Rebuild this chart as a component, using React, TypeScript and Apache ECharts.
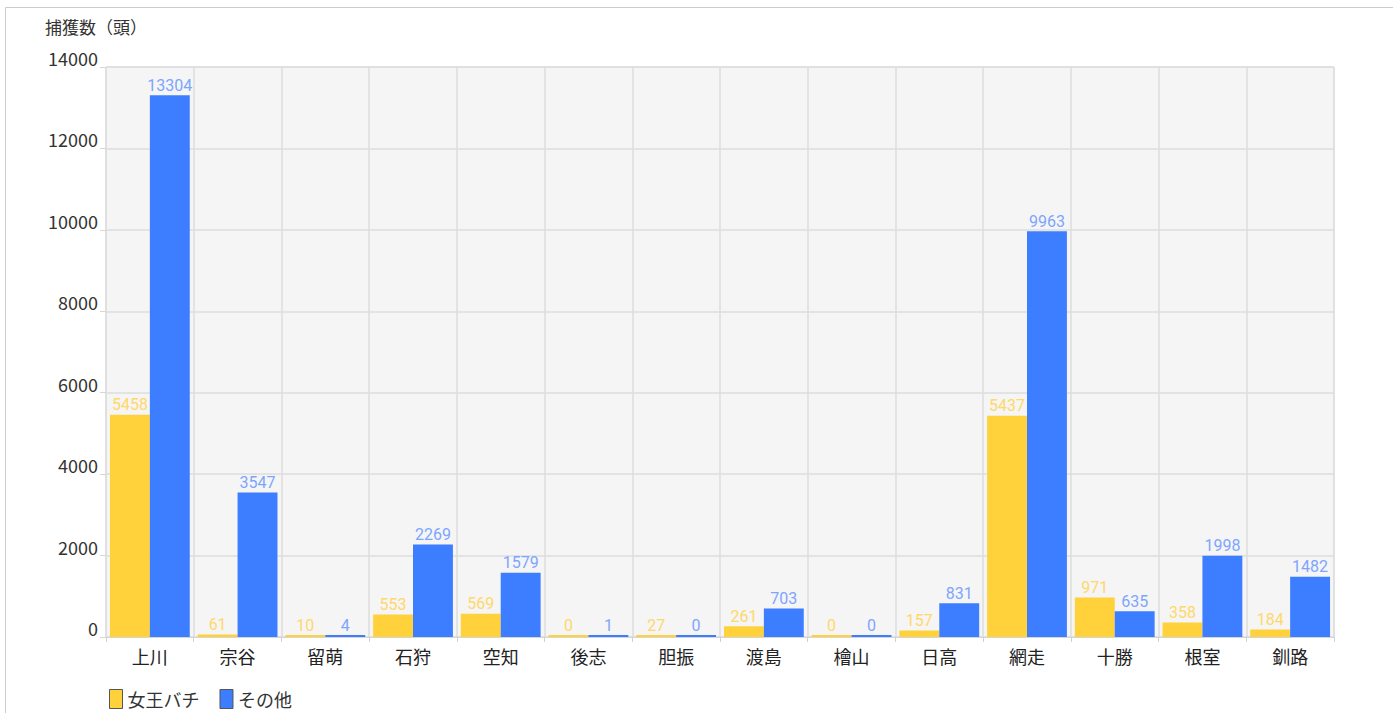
import React, { useEffect, useRef } from "react";
import * as echarts from "echarts";

const categories = ["上川", "宗谷", "留萌", "石狩", "空知", "後志", "胆振", "渡島", "檜山", "日高", "網走", "十勝", "根室", "釧路"];
const queenValues = [5458, 61, 10, 553, 569, 0, 27, 261, 0, 157, 5437, 971, 358, 184];
const otherValues = [13304, 3547, 4, 2269, 1579, 1, 0, 703, 0, 831, 9963, 635, 1998, 1482];
const seriesNames = ["女王バチ", "その他"];
const yAxisTitle = "捕獲数（頭）";

const JP = "'Noto Sans CJK JP', 'Noto Sans', sans-serif";
const NARROW = "'Liberation Sans Narrow', 'Roboto', sans-serif";

export default function App() {
  const ref = useRef<HTMLDivElement>(null);
  useEffect(() => {
    if (!ref.current) return;
    const chart = echarts.init(ref.current, undefined, { renderer: "svg" });
    chart.setOption({
      animation: false,
      backgroundColor: "#ffffff",
      graphic: [
        {
          type: "rect",
          shape: { x: 5.5, y: 7.5, width: 1400, height: 720 },
          style: { fill: "none", stroke: "#cccccc", lineWidth: 1 },
          silent: true,
          z: -1,
        },
      ],
      title: {
        text: yAxisTitle,
        left: 40,
        top: 13,
        textStyle: { fontFamily: JP, fontSize: 17, fontWeight: "normal", color: "#333" },
      },
      legend: {
        left: 104,
        top: 684,
        icon: "rect",
        itemWidth: 13,
        itemHeight: 19,
        itemGap: 20,
        itemStyle: { borderColor: "#555", borderWidth: 1 },
        textStyle: { fontFamily: JP, fontSize: 18, color: "#333", lineHeight: 18 },
        data: seriesNames,
      },
      grid: {
        left: 106,
        right: 59,
        top: 67,
        bottom: 76,
        show: true,
        backgroundColor: "#f5f5f5",
        borderColor: "#dcdcdc",
        borderWidth: 1,
        containLabel: false,
      },
      xAxis: {
        type: "category",
        data: categories,
        axisLine: { show: true, lineStyle: { color: "#d6d6d6" } },
        axisTick: { show: true, length: 5, lineStyle: { color: "#d0d0d0" } },
        splitLine: { show: true, lineStyle: { color: "#dcdcdc", width: 1.5 } },
        axisLabel: { fontFamily: JP, fontSize: 18, color: "#222", margin: 10 },
      },
      yAxis: {
        type: "value",
        min: 0,
        max: 14000,
        interval: 2000,
        axisLine: { show: false },
        axisTick: { show: true, length: 6, lineStyle: { color: "#d6d6d6" } },
        splitLine: { show: true, lineStyle: { color: "#dcdcdc", width: 1.5 } },
        axisLabel: {
          fontFamily: JP,
          fontSize: 18,
          color: "#333",
          margin: 8,
          verticalAlign: "bottom",
          formatter: (v: number) => String(v),
        },
      },
      series: [
        {
          name: seriesNames[0],
          type: "bar",
          data: queenValues,
          barGap: "0%",
          barCategoryGap: "9%",
          barMinHeight: 2,
          itemStyle: { color: "#FFD23C" },
          label: {
            show: true,
            position: "top",
            distance: 2,
            fontFamily: NARROW,
            fontSize: 16,
            color: "#FFD86A",
          },
        },
        {
          name: seriesNames[1],
          type: "bar",
          data: otherValues,
          barGap: "0%",
          barCategoryGap: "9%",
          barMinHeight: 2,
          itemStyle: { color: "#3D7DFF" },
          label: {
            show: true,
            position: "top",
            distance: 2,
            fontFamily: NARROW,
            fontSize: 16,
            color: "#7DA5FF",
          },
        },
      ],
    });
    return () => chart.dispose();
  }, []);
  return (
    <div
      ref={ref}
      style={{ position: "fixed", left: 0, top: 0, width: 1393, height: 713 }}
    />
  );
}
